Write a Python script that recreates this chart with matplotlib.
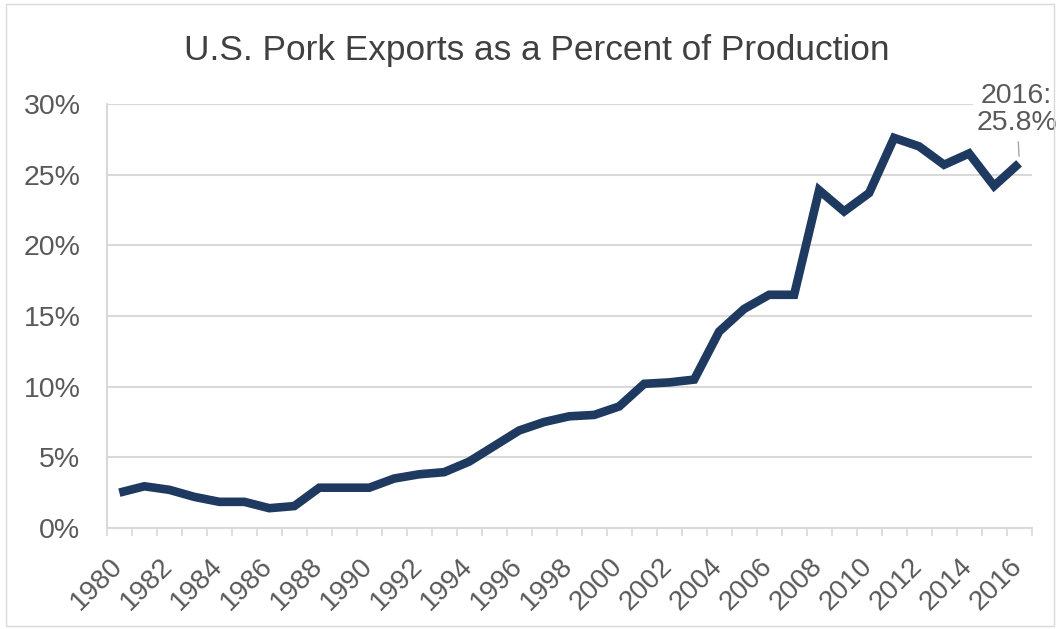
import matplotlib.pyplot as plt
import matplotlib.transforms as mtrans
from matplotlib.patches import Rectangle
from matplotlib.ticker import FixedLocator, NullFormatter

plt.rcParams['font.family'] = ['Liberation Sans', 'DejaVu Sans']

years = list(range(1980, 2017))
export_pct = [2.5, 2.95, 2.7, 2.2, 1.85, 1.85, 1.4, 1.55, 2.85, 2.85,
              2.85, 3.5, 3.8, 3.95, 4.7, 5.8, 6.9, 7.5, 7.9, 8.0,
              8.6, 10.2, 10.3, 10.5, 13.9, 15.5, 16.5, 16.5, 23.9, 22.4,
              23.7, 27.6, 27.0, 25.7, 26.5, 24.2, 25.8]
label_years = list(range(1980, 2017, 2))
y_ticks = [0, 5, 10, 15, 20, 25, 30]

line_col = '#1f3a60'
grid_col = '#d9d9d9'
text_col = '#595959'

fig = plt.figure(figsize=(10.58, 6.29), dpi=100)
fig.patches.append(Rectangle((0.006, 0.004), 0.99, 0.99, transform=fig.transFigure,
                             fill=False, edgecolor='#d9d9d9', linewidth=1))
ax = fig.add_axes([0.101, 0.1606, 0.874, 0.6741])

ax.plot(years, export_pct, color=line_col, linewidth=6.2, solid_joinstyle='miter',
        solid_capstyle='butt', zorder=3)

ax.set_xlim(1979.5, 2016.5)
ax.set_ylim(0, 30)
ax.set_yticks(y_ticks)
ax.set_yticklabels([f'{v}%' for v in y_ticks])
ax.grid(axis='y', color=grid_col, linewidth=1.5)
ax.set_axisbelow(True)

# category boundaries get the tick marks, labels sit on the categories
ax.xaxis.set_major_locator(FixedLocator([y - 0.5 for y in years] + [2016.5]))
ax.xaxis.set_major_formatter(NullFormatter())
ax.xaxis.set_minor_locator(FixedLocator(label_years))
ax.set_xticklabels([str(y) for y in label_years], minor=True)
ax.tick_params(axis='x', which='major', length=6, width=1.2, color=grid_col, direction='out')
ax.tick_params(axis='x', which='minor', length=0, pad=18, labelsize=20, labelcolor=text_col)
ax.tick_params(axis='y', length=0, pad=19, labelsize=20.5, labelcolor=text_col)
for lbl in ax.get_xticklabels(minor=True):
    lbl.set_rotation(45)
    lbl.set_ha('right')
    lbl.set_va('top')
    lbl.set_rotation_mode('anchor')
    lbl.set_transform(lbl.get_transform() + mtrans.ScaledTranslation(-0.1, 0, fig.dpi_scale_trans))

for s in ['top', 'right']:
    ax.spines[s].set_visible(False)
ax.spines['left'].set_color(grid_col)
ax.spines['bottom'].set_color(grid_col)
ax.spines['left'].set_linewidth(1.5)
ax.spines['bottom'].set_linewidth(1.5)

fig.text(0.507, 0.92, 'U.S. Pork Exports as a Percent of Production', ha='center',
         va='center', fontsize=25.4, color='#404040')

ax.annotate('2016:\n25.8%', xy=(years[-1], export_pct[-1] + 0.5), xytext=(years[-1] - 0.1, 29.6),
            ha='center', va='center', fontsize=20.5, color=text_col, linespacing=1.05,
            bbox=dict(boxstyle='square,pad=0.1', fc='white', ec='none'),
            arrowprops=dict(arrowstyle='-', color='#a6a6a6', lw=1, shrinkA=2, shrinkB=0),
            annotation_clip=False, zorder=4)

fig.savefig('out.png', dpi=100)
